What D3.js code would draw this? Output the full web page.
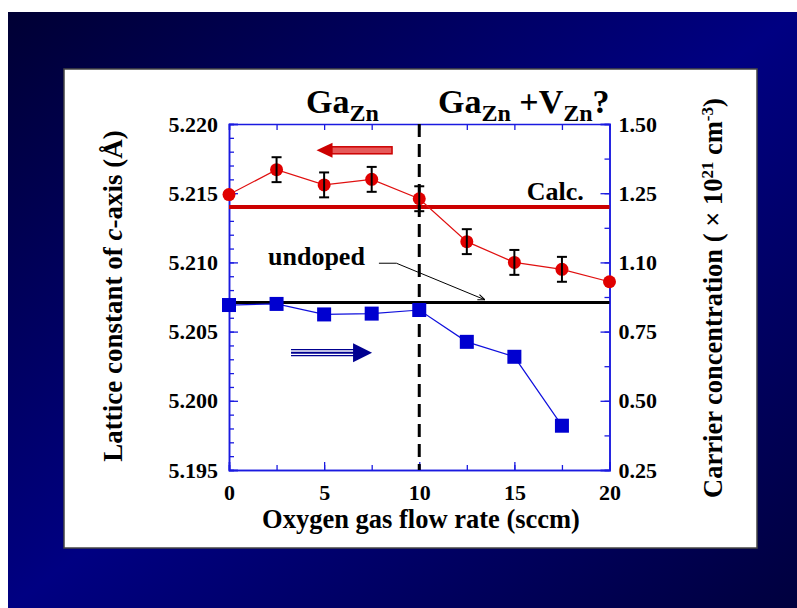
<!DOCTYPE html>
<html>
<head>
<meta charset="utf-8">
<script src="https://cdn.jsdelivr.net/npm/d3@7"></script>
<style>
  body { margin: 0; background: #fff; }
  text { font-family: 'Liberation Serif', 'Times New Roman', serif; font-weight: bold; }
</style>
</head>
<body>
<div id="draw"></div>
<script>
// oxygen flow rate (sccm)
const flowRates = [0, 2.5, 5, 7.5, 10, 12.5, 15, 17.5, 20]
// lattice constant of c-axis (Å), left axis
const latticeConst = [5.2149, 5.2167, 5.2156, 5.2160, 5.2146, 5.2115, 5.2100, 5.2095, 5.2086]
const latticeErr = [null, 0.0009, 0.0009, 0.0009, 0.0009, 0.0009, 0.0009, 0.0009, null]
// carrier concentration (x10^21 cm^-3), right axis
const carrierRates = [0, 2.5, 5, 7.5, 10, 12.5, 15, 17.5]
const carrierConc = [0.846, 0.850, 0.812, 0.815, 0.828, 0.713, 0.659, 0.41]
// reference lines
const calcLattice = 5.2140
const undopedLattice = 5.2071
const boundaryRate = 10
// ticks
const xTicks = [0, 5, 10, 15, 20]
const xMinorTicks = [0, 2.5, 5, 7.5, 10, 12.5, 15, 17.5, 20]
const leftTicks = [5.195, 5.200, 5.205, 5.210, 5.215, 5.220]
const rightTicks = [0.25, 0.50, 0.75, 1.00, 1.25, 1.50]
const rightTickLabels = ['0.25', '0.50', '0.75', '1.10', '1.25', '1.50']

const W = 797
const H = 608

const svg = d3.select('#draw').append('svg')
  .attr('width', W)
  .attr('height', H)

// background gradient
const defs = svg.append('defs')
const grad = defs.append('linearGradient')
  .attr('id', 'bg')
  .attr('x1', '0%').attr('y1', '0%')
  .attr('x2', '100%').attr('y2', '100%')
grad.append('stop').attr('offset', '0%').attr('stop-color', '#000034')
grad.append('stop').attr('offset', '50%').attr('stop-color', '#000082')
grad.append('stop').attr('offset', '100%').attr('stop-color', '#00003e')

svg.append('rect')
  .attr('x', 8).attr('y', 12)
  .attr('width', W - 8).attr('height', H - 12)
  .attr('fill', 'url(#bg)')

svg.append('rect')
  .attr('x', 64).attr('y', 69)
  .attr('width', 693).attr('height', 479)
  .attr('fill', '#fff')
  .attr('stroke', '#444')
  .attr('stroke-width', 1.5)

const x = d3.scaleLinear().domain([0, 20]).range([229, 609.5])
const yL = d3.scaleLinear().domain([5.195, 5.220]).range([470, 124])
const yR = d3.scaleLinear().domain([0.25, 1.50]).range([470, 124])

const axisBlue = '#1a1ae0'
const fmt3 = d3.format('.3f')

function styleAxis (g) {
  g.select('.domain').attr('stroke', axisBlue).attr('stroke-width', 1.5)
  g.selectAll('.tick line').attr('stroke', axisBlue).attr('stroke-width', 1.3)
  g.selectAll('.tick text')
    .attr('fill', '#000')
    .style('font-size', '22px')
    .style('font-family', "'Liberation Serif', serif")
    .style('font-weight', 'bold')
}

// left axis
const leftMinor = d3.range(5.195, 5.2201, 0.001)
svg.append('g')
  .attr('transform', 'translate(' + x(0) + ',0)')
  .call(d3.axisLeft(yL).tickValues(leftMinor).tickSize(-5).tickFormat(''))
  .call(styleAxis)
svg.append('g')
  .attr('transform', 'translate(' + x(0) + ',0)')
  .call(d3.axisLeft(yL).tickValues(leftTicks).tickSize(-9).tickPadding(11).tickFormat(fmt3))
  .call(styleAxis)

// right axis
const rightMinor = d3.range(0.25, 1.501, 0.125)
svg.append('g')
  .attr('transform', 'translate(' + x(20) + ',0)')
  .call(d3.axisRight(yR).tickValues(rightMinor).tickSize(-5).tickFormat(''))
  .call(styleAxis)
svg.append('g')
  .attr('transform', 'translate(' + x(20) + ',0)')
  .call(d3.axisRight(yR).tickValues(rightTicks).tickSize(-9).tickPadding(9)
    .tickFormat(function (d, i) { return rightTickLabels[i] }))
  .call(styleAxis)

// bottom axis
svg.append('g')
  .attr('transform', 'translate(0,' + yL(5.195) + ')')
  .call(d3.axisBottom(x).tickValues(xMinorTicks).tickSize(-5).tickFormat(''))
  .call(styleAxis)
svg.append('g')
  .attr('transform', 'translate(0,' + yL(5.195) + ')')
  .call(d3.axisBottom(x).tickValues(xTicks).tickSize(-8).tickPadding(14).tickFormat(d3.format('d')))
  .call(styleAxis)

// top axis
svg.append('g')
  .attr('transform', 'translate(0,' + yL(5.220) + ')')
  .call(d3.axisTop(x).tickValues(xMinorTicks).tickSize(-6).tickFormat(''))
  .call(styleAxis)

// reference lines
svg.append('line')
  .attr('x1', x(0)).attr('x2', x(20))
  .attr('y1', yL(calcLattice)).attr('y2', yL(calcLattice))
  .attr('stroke', '#cc0000').attr('stroke-width', 4)

svg.append('line')
  .attr('x1', x(0)).attr('x2', x(20))
  .attr('y1', yL(undopedLattice)).attr('y2', yL(undopedLattice))
  .attr('stroke', '#000').attr('stroke-width', 3)

svg.append('line')
  .attr('x1', x(boundaryRate)).attr('x2', x(boundaryRate))
  .attr('y1', yL(5.220)).attr('y2', yL(5.195))
  .attr('stroke', '#000').attr('stroke-width', 3)
  .attr('stroke-dasharray', '13,7')

// lattice constant series
const lat = flowRates.map(function (r, i) { return { r: r, v: latticeConst[i], e: latticeErr[i] } })
svg.append('path')
  .datum(lat)
  .attr('fill', 'none')
  .attr('stroke', '#e01010')
  .attr('stroke-width', 1.2)
  .attr('d', d3.line().x(function (d) { return x(d.r) }).y(function (d) { return yL(d.v) }))

svg.selectAll('.dot')
  .data(lat)
  .enter().append('circle')
  .attr('class', 'dot')
  .attr('cx', function (d) { return x(d.r) })
  .attr('cy', function (d) { return yL(d.v) })
  .attr('r', 6.5)
  .attr('fill', '#e00000')

const errs = svg.selectAll('.err')
  .data(lat.filter(function (d) { return d.e !== null }))
  .enter().append('g')
  .attr('class', 'err')
  .attr('stroke', '#000')
  .attr('stroke-width', 2)
errs.append('line')
  .attr('x1', function (d) { return x(d.r) }).attr('x2', function (d) { return x(d.r) })
  .attr('y1', function (d) { return yL(d.v + d.e) }).attr('y2', function (d) { return yL(d.v - d.e) })
errs.append('line')
  .attr('x1', function (d) { return x(d.r) - 5 }).attr('x2', function (d) { return x(d.r) + 5 })
  .attr('y1', function (d) { return yL(d.v + d.e) }).attr('y2', function (d) { return yL(d.v + d.e) })
errs.append('line')
  .attr('x1', function (d) { return x(d.r) - 5 }).attr('x2', function (d) { return x(d.r) + 5 })
  .attr('y1', function (d) { return yL(d.v - d.e) }).attr('y2', function (d) { return yL(d.v - d.e) })

// carrier concentration series
const car = carrierRates.map(function (r, i) { return { r: r, v: carrierConc[i] } })
svg.append('path')
  .datum(car)
  .attr('fill', 'none')
  .attr('stroke', '#1010dd')
  .attr('stroke-width', 1.2)
  .attr('d', d3.line().x(function (d) { return x(d.r) }).y(function (d) { return yR(d.v) }))

svg.selectAll('.sq')
  .data(car)
  .enter().append('rect')
  .attr('class', 'sq')
  .attr('x', function (d) { return x(d.r) - 7 })
  .attr('y', function (d) { return yR(d.v) - 7 })
  .attr('width', 14)
  .attr('height', 14)
  .attr('fill', '#0000d0')

// red arrow pointing left (left axis)
const ra = { from: 8.57, to: 4.6, v: 5.2181 }
const ry = yL(ra.v)
svg.append('rect')
  .attr('x', x(ra.to) + 15).attr('y', ry - 3.5)
  .attr('width', x(ra.from) - x(ra.to) - 15).attr('height', 7)
  .attr('fill', '#e65a5a').attr('stroke', '#cc0000').attr('stroke-width', 1.5)
svg.append('path')
  .attr('d', 'M' + x(ra.to) + ',' + ry + 'L' + (x(ra.to) + 16) + ',' + (ry - 7.5) + 'L' + (x(ra.to) + 16) + ',' + (ry + 7.5) + 'Z')
  .attr('fill', '#cc0000')

// blue arrow pointing right (right axis), triple-line shaft
const ba = { from: 3.26, to: 7.52, v: 0.674 }
const by = yR(ba.v)
svg.selectAll('.shaft')
  .data([-3, 0, 3])
  .enter().append('line')
  .attr('class', 'shaft')
  .attr('x1', x(ba.from)).attr('x2', x(ba.to) - 18)
  .attr('y1', function (d) { return by + d }).attr('y2', function (d) { return by + d })
  .attr('stroke', '#000090')
  .attr('stroke-width', function (d) { return d === 0 ? 2 : 1.4 })
svg.append('path')
  .attr('d', 'M' + x(ba.to) + ',' + by + 'L' + (x(ba.to) - 19) + ',' + (by - 9.5) + 'L' + (x(ba.to) - 19) + ',' + (by + 9.5) + 'Z')
  .attr('fill', '#000090')

// annotations
svg.append('text')
  .attr('x', x(15.65)).attr('y', yL(5.2145))
  .style('font-size', '26px')
  .text('Calc.')

svg.append('text')
  .attr('x', x(2.05)).attr('y', yL(5.2098))
  .style('font-size', '26px')
  .text('undoped')

defs.append('marker')
  .attr('id', 'ah')
  .attr('viewBox', '0 0 10 10')
  .attr('refX', 10).attr('refY', 5)
  .attr('markerWidth', 7).attr('markerHeight', 7)
  .attr('orient', 'auto')
  .append('path').attr('d', 'M0,1L10,5L0,9').attr('fill', 'none').attr('stroke', '#000').attr('stroke-width', 1.5)

const pointer = [[7.88, 5.20994], [8.8, 5.20994], [13.45, 5.2073]]
svg.append('path')
  .datum(pointer)
  .attr('fill', 'none')
  .attr('stroke', '#000')
  .attr('stroke-width', 1)
  .attr('marker-end', 'url(#ah)')
  .attr('d', d3.line().x(function (d) { return x(d[0]) }).y(function (d) { return yL(d[1]) }))

// region titles
const t1 = svg.append('text').attr('x', 306).attr('y', 113).style('font-size', '34px')
t1.append('tspan').text('Ga')
t1.append('tspan').attr('dy', 8).style('font-size', '24px').text('Zn')

const t2 = svg.append('text').attr('x', 438).attr('y', 113).style('font-size', '34px')
t2.append('tspan').text('Ga')
t2.append('tspan').attr('dy', 8).style('font-size', '24px').text('Zn')
t2.append('tspan').attr('dy', -8).text(' +V')
t2.append('tspan').attr('dy', 8).style('font-size', '24px').text('Zn')
t2.append('tspan').attr('dy', -8).text('?')

// axis titles
svg.append('text')
  .attr('x', 421).attr('y', 528)
  .attr('text-anchor', 'middle')
  .style('font-size', '26.5px')
  .text('Oxygen gas flow rate (sccm)')

const yl = svg.append('text')
  .attr('transform', 'translate(122,296) rotate(-90)')
  .attr('text-anchor', 'middle')
  .style('font-size', '27px')
yl.append('tspan').text('Lattice constant of ')
yl.append('tspan').style('font-style', 'italic').text('c')
yl.append('tspan').text('-axis (Å)')

const yr = svg.append('text')
  .attr('transform', 'translate(722,298) rotate(-90)')
  .attr('text-anchor', 'middle')
  .style('font-size', '26.5px')
yr.append('tspan').text('Carrier concentration ( × 10')
yr.append('tspan').attr('dy', -9).style('font-size', '17px').text('21')
yr.append('tspan').attr('dy', 9).text(' cm')
yr.append('tspan').attr('dy', -9).style('font-size', '17px').text('-3')
yr.append('tspan').attr('dy', 9).text(')')
</script>
</body>
</html>
